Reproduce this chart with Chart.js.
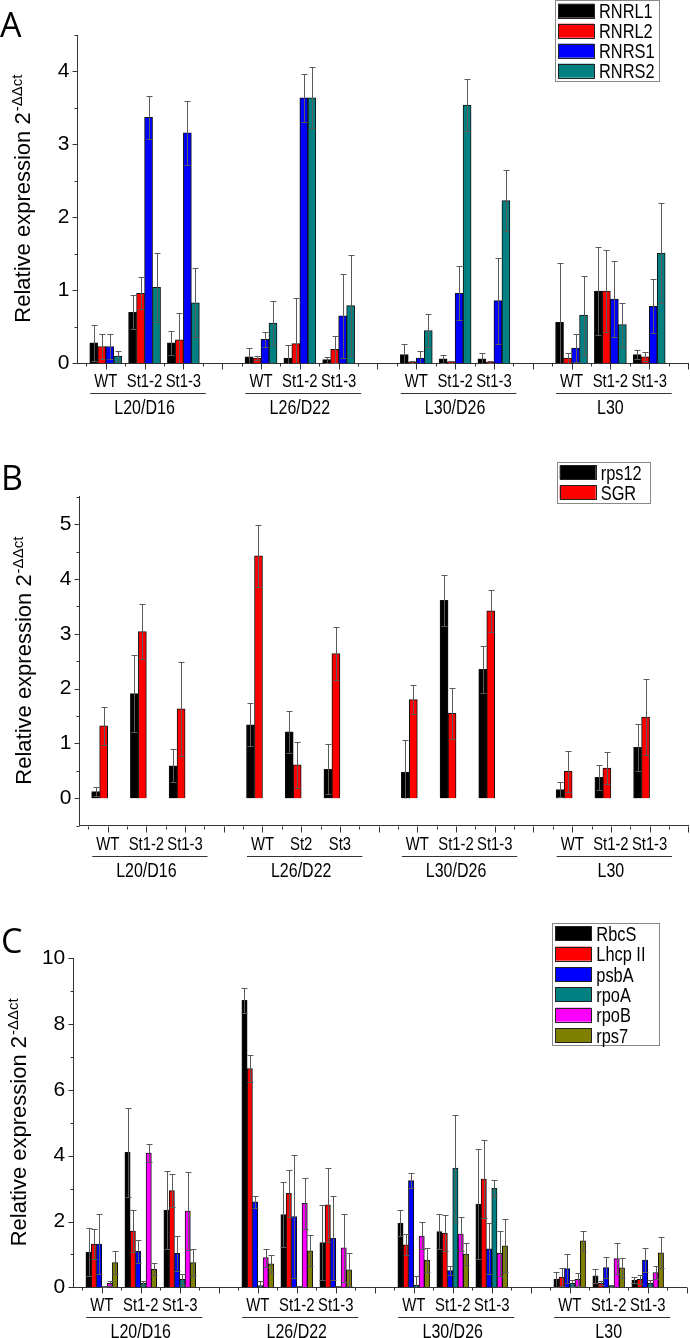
<!DOCTYPE html>
<html>
<head>
<meta charset="utf-8">
<script src="https://cdn.jsdelivr.net/npm/chart.js@4.4.1/dist/chart.umd.min.js"></script>
<style>
  html, body { margin: 0; padding: 0; background: #fff; }
  body { width: 690px; height: 1338px; position: relative; overflow: hidden; }
  canvas { position: absolute; left: 0; }
  #chartA { top: 0; }
  #chartB { top: 430px; }
  #chartC { top: 885px; }
</style>
</head>
<body>
<canvas id="chartA" width="690" height="430"></canvas>
<canvas id="chartB" width="690" height="455"></canvas>
<canvas id="chartC" width="690" height="453"></canvas>
<script>
// conditions (groups) and lines under each group
const conditions = ['L20/D16', 'L26/D22', 'L30/D26', 'L30'];
const linesAC = ['WT', 'St1-2', 'St1-3', 'WT', 'St1-2', 'St1-3', 'WT', 'St1-2', 'St1-3', 'WT', 'St1-2', 'St1-3'];
const linesB = ['WT', 'St1-2', 'St1-3', 'WT', 'St2', 'St3', 'WT', 'St1-2', 'St1-3', 'WT', 'St1-2', 'St1-3'];

// Panel A
const rnrl1 = [0.28, 0.70, 0.28, 0.09, 0.07, 0.05, 0.12, 0.06, 0.06, 0.56, 0.99, 0.12];
const rnrl1Err = [0.25, 0.23, 0.16, 0.12, 0.18, 0.04, 0.15, 0.05, 0.08, 0.82, 0.60, 0.06];
const rnrl2 = [0.23, 0.96, 0.32, 0.07, 0.27, 0.19, 0.015, 0.02, 0.015, 0.07, 0.99, 0.09];
const rnrl2Err = [0.17, 0.22, 0.37, 0.03, 0.63, 0.18, 0.01, 0.01, 0.01, 0.07, 0.56, 0.06];
const rnrs1 = [0.23, 3.37, 3.16, 0.33, 3.64, 0.65, 0.07, 0.96, 0.86, 0.21, 0.88, 0.78];
const rnrs1Err = [0.17, 0.29, 0.44, 0.10, 0.33, 0.58, 0.10, 0.37, 0.59, 0.19, 0.52, 0.37];
const rnrs2 = [0.10, 1.04, 0.83, 0.55, 3.64, 0.79, 0.45, 3.54, 2.23, 0.66, 0.53, 1.51];
const rnrs2Err = [0.07, 0.47, 0.47, 0.30, 0.42, 0.69, 0.23, 0.36, 0.42, 0.54, 0.30, 0.69];
const yTicksA = [0, 1, 2, 3, 4];

// Panel B
const rps12 = [0.12, 1.91, 0.59, 1.34, 1.21, 0.53, 0.48, 3.61, 2.35, 0.16, 0.38, 0.93];
const rps12Err = [0.08, 0.70, 0.30, 0.39, 0.38, 0.46, 0.59, 0.47, 0.43, 0.13, 0.22, 0.43];
const sgr = [1.32, 3.04, 1.63, 4.42, 0.61, 2.64, 1.80, 1.55, 3.42, 0.49, 0.55, 1.48];
const sgrErr = [0.34, 0.50, 0.85, 0.56, 0.42, 0.49, 0.26, 0.47, 0.38, 0.38, 0.29, 0.69];
const yTicksB = [0, 1, 2, 3, 4, 5];

// Panel C
const rbcS = [1.07, 4.10, 2.35, 8.72, 2.21, 1.36, 1.95, 1.69, 2.53, 0.25, 0.35, 0.22];
const rbcSErr = [0.73, 1.36, 1.19, 0.38, 1.00, 1.15, 0.40, 0.53, 1.67, 0.23, 0.21, 0.10];
const lhcp = [1.31, 1.71, 2.94, 6.65, 2.86, 2.51, 1.29, 1.64, 3.29, 0.31, 0.12, 0.24];
const lhcpErr = [0.46, 0.64, 0.50, 0.42, 0.71, 1.12, 0.32, 0.55, 1.19, 0.27, 0.06, 0.13];
const psbA = [1.31, 1.09, 1.03, 2.60, 2.15, 1.49, 3.24, 0.51, 1.17, 0.57, 0.60, 0.83];
const psbAErr = [0.91, 0.35, 0.53, 0.19, 1.86, 1.27, 0.23, 0.15, 0.78, 0.44, 0.31, 0.36];
const rpoA = [0.03, 0.13, 0.24, 0.05, 0.02, 0.02, 0.07, 3.62, 3.01, 0.12, 0.04, 0.12];
const rpoAErr = [0.02, 0.05, 0.16, 0.15, 0.02, 0.02, 0.28, 1.62, 0.24, 0.10, 0.02, 0.10];
const rpoB = [0.12, 4.08, 2.32, 0.90, 2.55, 1.20, 1.56, 1.62, 1.03, 0.24, 0.87, 0.45];
const rpoBErr = [0.08, 0.28, 1.18, 0.27, 0.77, 1.03, 0.41, 0.51, 0.68, 0.19, 0.47, 0.20];
const rps7 = [0.75, 0.55, 0.75, 0.71, 1.11, 0.53, 0.83, 1.01, 1.26, 1.41, 0.59, 1.05];
const rps7Err = [0.35, 0.18, 0.40, 0.27, 0.47, 0.50, 0.36, 0.33, 0.81, 0.30, 0.30, 0.47];
const yTicksC = [0, 2, 4, 6, 8, 10];

const FONT = '"Liberation Sans", Arial, Helvetica, sans-serif';
const NARROW = 0.78;
const AXIS = '#333';

// each condition takes 3 slots plus one empty slot as gap
const perGroup = 3;
const slotOf = i => Math.floor(i / perGroup) * (perGroup + 1) + (i % perGroup);

function bars(label, values, errs, color, thickness) {
    return {
        label: label,
        data: values.map((v, i) => ({ x: slotOf(i), y: v })),
        errors: errs,
        backgroundColor: color,
        borderColor: '#111',
        borderWidth: 1,
        barThickness: thickness
    };
}

function narrowText(ctx, text, x, y, size, align) {
    ctx.save();
    ctx.font = size + 'px ' + FONT;
    const w = ctx.measureText(text).width * NARROW;
    const left = align === 'center' ? x - w / 2 : x;
    ctx.translate(left, y);
    ctx.scale(NARROW, 1);
    ctx.textAlign = 'left';
    ctx.textBaseline = 'alphabetic';
    ctx.fillStyle = '#000';
    ctx.fillText(text, 0, 0);
    ctx.restore();
}

// error bars: symmetric, caps at both ends
const errorBars = {
    id: 'errorBars',
    afterDatasetsDraw(chart) {
        const ctx = chart.ctx;
        const y = chart.scales.y;
        chart.data.datasets.forEach((ds, di) => {
            if (!ds.errors) return;
            const meta = chart.getDatasetMeta(di);
            meta.data.forEach((bar, i) => {
                const v = ds.data[i].y, e = ds.errors[i];
                const x = Math.round(bar.x) + 0.5;
                const top = Math.round(y.getPixelForValue(v + e)) + 0.5;
                const low = v - e;
                const bot = Math.round(y.getPixelForValue(Math.max(low, 0))) + 0.5;
                ctx.save();
                ctx.strokeStyle = '#5a5a5a';
                ctx.lineWidth = 1;
                ctx.beginPath();
                ctx.moveTo(x, bot);
                ctx.lineTo(x, top);
                ctx.moveTo(x - 3, top);
                ctx.lineTo(x + 3, top);
                if (low > 0) {
                    ctx.moveTo(x - 3, bot);
                    ctx.lineTo(x + 3, bot);
                }
                ctx.stroke();
                ctx.restore();
            });
        });
    }
};

// ticks, category labels, axis title, panel letter and legend box
function makeDecor(cfg) {
    return {
        id: 'decor',
        afterDraw(chart) {
            const ctx = chart.ctx;
            const xs = chart.scales.x, ys = chart.scales.y;
            const area = chart.chartArea;
            const axisY = Math.round(area.bottom) + 0.5;
            const axisX = Math.round(area.left) + 0.5;
            ctx.save();
            ctx.strokeStyle = AXIS;
            ctx.lineWidth = 1;
            ctx.beginPath();
            // x ticks: major at every slot, minor at half slots
            for (let v = -0.5; v <= 15.001; v += 0.5) {
                const px = Math.round(xs.getPixelForValue(v)) + 0.5;
                const len = Math.abs(v - Math.round(v)) < 0.01 ? 6 : 3;
                ctx.moveTo(px, axisY);
                ctx.lineTo(px, axisY + len);
            }
            // y ticks
            for (let v = ys.min; v <= ys.max + 1e-6; v += cfg.minorStep) {
                const vv = Math.round(v * 100) / 100;
                const py = Math.round(ys.getPixelForValue(vv)) + 0.5;
                const len = cfg.majors.includes(vv) ? 5 : 3;
                ctx.moveTo(axisX, py);
                ctx.lineTo(axisX - len, py);
            }
            ctx.stroke();

            // line labels under each slot
            cfg.categories.forEach((lab, i) => {
                narrowText(ctx, lab, xs.getPixelForValue(slotOf(i)), area.bottom + 24, 19, 'center');
            });
            // condition labels with underline
            ctx.beginPath();
            conditions.forEach((cond, g) => {
                const mid = g * (perGroup + 1) + 1;
                const x0 = xs.getPixelForValue(mid - 1.4);
                const x1 = xs.getPixelForValue(mid + 1.58);
                ctx.moveTo(x0, axisY + 30);
                ctx.lineTo(x1, axisY + 30);
                narrowText(ctx, cond, xs.getPixelForValue(mid), area.bottom + 51, 20.5, 'center');
            });
            ctx.stroke();

            // y axis title with superscript
            const cy = (area.top + area.bottom) / 2;
            ctx.translate(cfg.titleX, cy);
            ctx.rotate(-Math.PI / 2);
            ctx.fillStyle = '#000';
            ctx.textBaseline = 'alphabetic';
            ctx.textAlign = 'left';
            const main = 'Relative expression 2';
            const sup = '-\u0394\u0394ct';
            ctx.font = '22px ' + FONT;
            const w1 = ctx.measureText(main).width;
            ctx.font = '15px ' + FONT;
            const w2 = ctx.measureText(sup).width;
            const start = -(w1 + w2) / 2;
            ctx.font = '22px ' + FONT;
            ctx.fillText(main, start, 0);
            ctx.font = '15px ' + FONT;
            ctx.fillText(sup, start + w1 + 1, -8);
            ctx.restore();

            // panel letter
            ctx.save();
            ctx.fillStyle = '#000';
            ctx.font = '34px "Open Sans", ' + FONT;
            ctx.textBaseline = 'alphabetic';
            ctx.fillText(cfg.letter, cfg.letterX, cfg.letterY);
            ctx.restore();

            // legend box
            const lg = cfg.legend;
            ctx.save();
            ctx.fillStyle = '#fff';
            ctx.fillRect(lg.x, lg.y, lg.w, lg.h);
            ctx.strokeStyle = '#888';
            ctx.lineWidth = 1;
            ctx.strokeRect(Math.round(lg.x) + 0.5, Math.round(lg.y) + 0.5, Math.round(lg.w), Math.round(lg.h));
            lg.items.forEach((it, k) => {
                const cyy = lg.row0 + k * lg.step;
                ctx.fillStyle = it.color;
                ctx.fillRect(lg.x + 3, cyy - 7, 36, 14);
                ctx.strokeStyle = '#222';
                ctx.strokeRect(Math.round(lg.x + 3) + 0.5, Math.round(cyy - 7) + 0.5, 36, 14);
                narrowText(ctx, it.label, lg.x + 44, cyy + 7.5, 21, 'left');
            });
            ctx.restore();
        }
    };
}

function makePanel(id, cfg) {
    const canvas = document.getElementById(id);
    return new Chart(canvas, {
        type: 'bar',
        data: { datasets: cfg.datasets },
        options: {
            responsive: false,
            animation: false,
            layout: { padding: { top: cfg.top, right: 690 - cfg.right, left: 0, bottom: 0 } },
            plugins: { legend: { display: false }, tooltip: { enabled: false } },
            scales: {
                x: {
                    type: 'linear',
                    bounds: 'data',
                    offset: false,
                    min: -0.73,
                    max: 15,
                    grid: { display: false, drawTicks: false, offset: false },
                    ticks: { display: false },
                    border: { color: AXIS, width: 1 },
                    afterFit: s => { s.height = canvas.height - cfg.bottom; }
                },
                y: {
                    min: cfg.yMin,
                    max: cfg.yMax,
                    grid: { display: false, drawTicks: false },
                    border: { color: AXIS, width: 1 },
                    ticks: {
                        stepSize: cfg.minorStep,
                        autoSkip: false,
                        padding: 8,
                        color: '#000',
                        font: { family: FONT, size: 21 },
                        callback: v => cfg.majors.includes(Math.round(v * 100) / 100) ? String(v) : ''
                    },
                    afterFit: s => { s.width = cfg.left; }
                }
            }
        },
        plugins: [errorBars, makeDecor(cfg)]
    });
}

makePanel('chartA', {
    top: 35, bottom: 363.3, left: 77.4, right: 688,
    yMin: 0, yMax: 4.5, minorStep: 0.5, majors: yTicksA,
    categories: linesAC, titleX: 30, letter: 'A', letterX: 0, letterY: 37,
    datasets: [
        bars('RNRL1', rnrl1, rnrl1Err, '#000000', 8),
        bars('RNRL2', rnrl2, rnrl2Err, '#ff0000', 8),
        bars('RNRS1', rnrs1, rnrs1Err, '#0000ff', 8),
        bars('RNRS2', rnrs2, rnrs2Err, '#008080', 8)
    ],
    legend: {
        x: 555, y: 0, w: 104, h: 80.7, row0: 10.7, step: 20,
        items: [
            { label: 'RNRL1', color: '#000000' },
            { label: 'RNRL2', color: '#ff0000' },
            { label: 'RNRS1', color: '#0000ff' },
            { label: 'RNRS2', color: '#008080' }
        ]
    }
});

makePanel('chartB', {
    top: 66.7, bottom: 395.7, left: 79.4, right: 688.3,
    yMin: -0.5, yMax: 5.5, minorStep: 0.5, majors: yTicksB,
    categories: linesB, titleX: 31, letter: 'B', letterX: 1, letterY: 60,
    datasets: [
        bars('rps12', rps12, rps12Err, '#000000', 8),
        bars('SGR', sgr, sgrErr, '#ff0000', 8),
        // empty slots keep the two bars on the left half, as in the figure
        { label: '', data: [], barThickness: 8 },
        { label: '', data: [], barThickness: 8 }
    ],
    legend: {
        x: 556.7, y: 31.7, w: 92.6, h: 40.6, row0: 42.3, step: 20,
        items: [
            { label: 'rps12', color: '#000000' },
            { label: 'SGR', color: '#ff0000' }
        ]
    }
});

makePanel('chartC', {
    top: 73.3, bottom: 402.3, left: 73.3, right: 686.7,
    yMin: 0, yMax: 10, minorStep: 1, majors: yTicksC,
    categories: linesAC, titleX: 26, letter: 'C', letterX: 1, letterY: 68,
    datasets: [
        bars('RbcS', rbcS, rbcSErr, '#000000', 5.3),
        bars('Lhcp II', lhcp, lhcpErr, '#ff0000', 5.3),
        bars('psbA', psbA, psbAErr, '#0000ff', 5.3),
        bars('rpoA', rpoA, rpoAErr, '#008080', 5.3),
        bars('rpoB', rpoB, rpoBErr, '#ff00ff', 5.3),
        bars('rps7', rps7, rps7Err, '#808000', 5.3)
    ],
    legend: {
        x: 552.3, y: 38.3, w: 107, h: 121.7, row0: 48.3, step: 20.35,
        items: [
            { label: 'RbcS', color: '#000000' },
            { label: 'Lhcp II', color: '#ff0000' },
            { label: 'psbA', color: '#0000ff' },
            { label: 'rpoA', color: '#008080' },
            { label: 'rpoB', color: '#ff00ff' },
            { label: 'rps7', color: '#808000' }
        ]
    }
});
</script>
</body>
</html>
